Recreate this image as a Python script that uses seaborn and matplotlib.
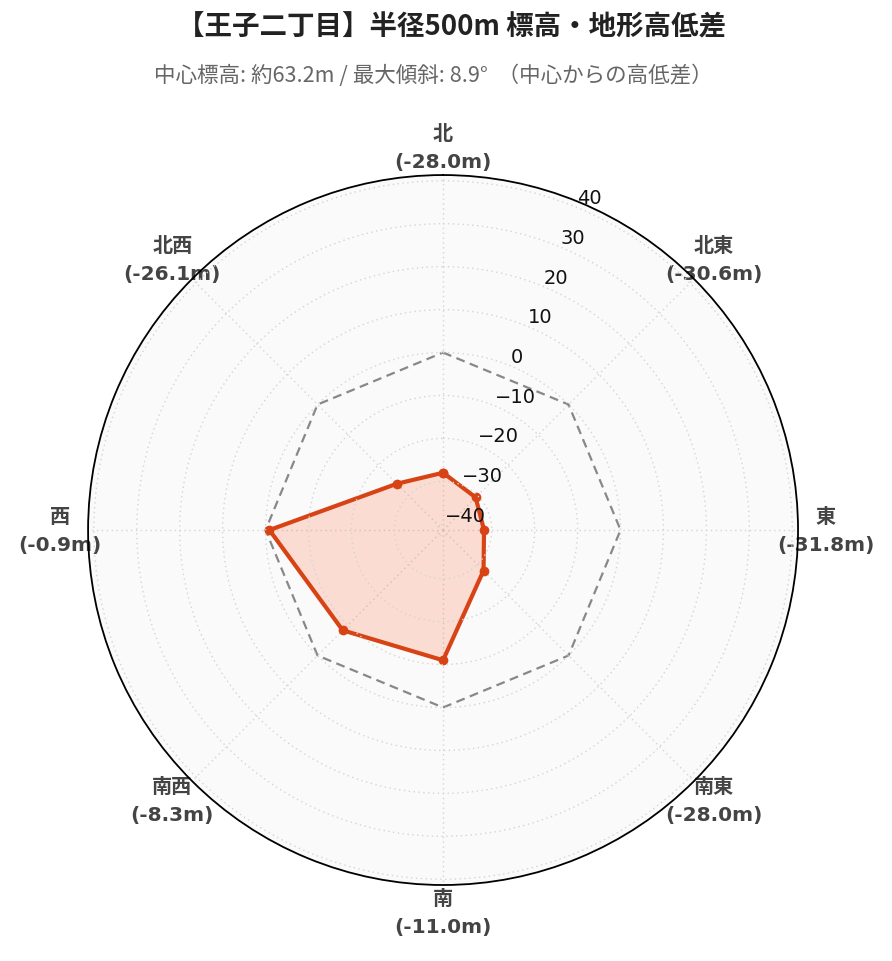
import numpy as np
import pandas as pd
import matplotlib
matplotlib.use("Agg")
import matplotlib.pyplot as plt
import seaborn as sns

# ---- data ----
directions = ["北", "北東", "東", "南東", "南", "南西", "西", "北西"]
angles_deg = [0, 45, 90, 135, 180, 225, 270, 315]
diffs = [-28.0, -30.6, -31.8, -28.0, -11.0, -8.3, -0.9, -26.1]
reference = [0, 0, 0, 0, 0, 0, 0, 0]
r_ticks = [-40, -30, -20, -10, 0, 10, 20, 30, 40]
title = "【王子二丁目】半径500m 標高・地形高低差"
subtitle = "中心標高: 約63.2m / 最大傾斜: 8.9°  （中心からの高低差）"

sns.set_theme(style="white")
plt.rcParams["font.family"] = ["DejaVu Sans", "Noto Sans CJK JP"]
plt.rcParams["axes.unicode_minus"] = True

theta = np.deg2rad(angles_deg)
theta_c = np.append(theta, 2 * np.pi)
diffs_c = np.append(diffs, diffs[0])
ref_c = np.append(reference, reference[0])

df = pd.DataFrame({"theta": theta_c, "diff": diffs_c, "ref": ref_c})

fig = plt.figure(figsize=(8.92, 9.62), dpi=100)
ax = fig.add_axes([0.0987, 0.079, 0.796, 0.738], projection="polar")
ax.set_facecolor("#fafafa")
ax.set_theta_zero_location("N")
ax.set_theta_direction(-1)

lim = max(abs(v) for v in diffs) * 1.3
ax.set_ylim(-lim, lim)

# reference zero line
sns.lineplot(data=df, x="theta", y="ref", ax=ax, sort=False, color="#888888",
             linewidth=1.6, legend=False, zorder=3)
ax.lines[-1].set_linestyle((0, (4, 2.5)))

# fill and data line
ax.fill(theta_c, diffs_c, color="#ff5722", alpha=0.18, linewidth=0, zorder=2)
sns.lineplot(data=df, x="theta", y="diff", ax=ax, sort=False, color="#d84315",
             linewidth=3.0, marker="o", markersize=7, markeredgewidth=0,
             legend=False, zorder=4)

ax.set_xlabel("")
ax.set_ylabel("")

# angular ticks
ax.set_xticks(theta)
ax.set_xticklabels([f"{d}\n({v:.1f}m)" for d, v in zip(directions, diffs)],
                   fontsize=14.5, fontweight="bold", color="#444444",
                   linespacing=1.6)
ax.tick_params(axis="x", pad=7)

# radial ticks
ax.set_yticks(r_ticks)
ax.set_yticklabels([f"{t}".replace("-", "\u2212") for t in r_ticks],
                   fontsize=14, color="#111111")
ax.set_rlabel_position(22.5)
ax.yaxis.set_zorder(5)

ax.grid(True, linestyle=(0, (1, 2.5)), color="#d4d4d4", linewidth=1.0)
ax.spines["polar"].set_color("black")
ax.spines["polar"].set_linewidth(1.3)
ax.spines["polar"].set_zorder(6)

fig.text(0.506, 0.971, title, ha="center", va="center", fontsize=19.8,
         fontweight="bold", color="#222222", family=["Noto Sans CJK JP"])
fig.text(0.486, 0.921, subtitle, ha="center", va="center", fontsize=15.5,
         color="#666666", family=["Noto Sans CJK JP", "DejaVu Sans"])

fig.savefig("out.png", dpi=100, facecolor="white")
